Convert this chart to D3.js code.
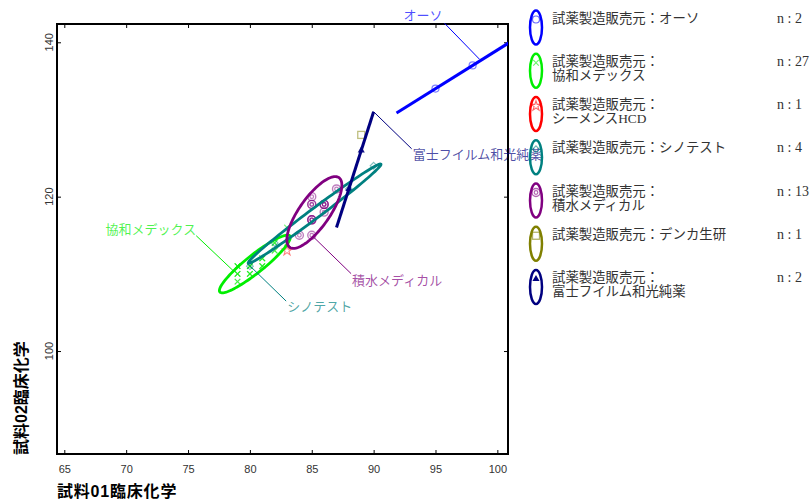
<!DOCTYPE html>
<html><head><meta charset="utf-8">
<script src="https://cdn.jsdelivr.net/npm/d3@7"></script>
<style>body{margin:0;background:#fff;} svg{display:block;}</style>
</head><body><svg id="c" width="812" height="500"></svg>
<script>
// ---------------- data ----------------
const xTicks = [65, 70, 75, 80, 85, 90, 95, 100];
const yTicks = [100, 120, 140];
const xTitle = "試料01臨床化学";
const yTitle = "試料02臨床化学";
const legendPrefix = "試薬製造販売元：";
const makers = ["オーソ", "協和メデックス", "シーメンスHCD", "シノテスト", "積水メディカル", "デンカ生研", "富士フイルム和光純薬"];
const counts = [2, 27, 1, 4, 13, 1, 2];
const colors = ["#0000ff", "#00ee00", "#ff0000", "#008080", "#800080", "#808000", "#000080"];
const shapes = ["circle", "x", "star", "diamond", "dcircle", "square", "triangle"];

const ptsOso = [[95, 134], [98, 137]];
const ptsKyowa = [[79,111],[79,111],[79,111],[79,110],[79,110],[79,110],[79,109],[79,109],
  [80,111],[80,111],[80,111],[80,111],[80,110],[80,110],[80,110],
  [81,112],[81,112],[81,112],[81,111],[81,111],[81,111],
  [82,114],[82,114],[82,113],[82,113],[83,116],[83,114]];
const ptsSiemens = [[83, 113]];
const ptsShino = [[80, 111], [82, 114], [88, 121], [90, 124]];
const ptsSekisui = [[85,120],[85,119],[85,119],[86,119],[86,119],[86,119],[86,118],[87,121],
  [85,117],[85,117],[85,117],[84,115],[85,115]];
const ptsDenka = [[89, 128]];
const ptsFuji = [[89, 126], [88, 121]];
const points = [ptsOso, ptsKyowa, ptsSiemens, ptsShino, ptsSekisui, ptsDenka, ptsFuji];

// ellipses: center, semi-major vector, semi-minor vector (data units)
const ellKyowa = {c: [80.40, 111.28], u: [2.83, 3.63], v: [0.45, -0.90]};
const ellShino = {c: [85.23, 117.80], u: [5.36, 6.41], v: [0.24, -0.52]};
const ellSekisui = {c: [85.21, 117.95], u: [1.99, 4.51], v: [0.99, -1.13]};
const ellipses = [[1, ellKyowa], [3, ellShino], [4, ellSekisui]];
// degenerate (n=2) ellipses drawn as line segments
const lineOso = [[91.85, 130.85], [101.2, 140.2]];
const lineFuji = [[87.0, 116.0], [90.0, 131.0]];
const lines = [[0, lineOso], [6, lineFuji]];

// annotation labels: series index, anchor (data)
const labelSeries = [0, 6, 1, 3, 4];
const labelAnchors = [[98.56, 137.8], [90.0, 131.0], [78.65, 110.41], [79.86, 111.26], [85.11, 114.82]];

// ---------------- layout ----------------
const svg = d3.select("#c");
const L = 57, R = 508, T = 24, B = 454;
const x = d3.scaleLinear().domain([64.41, 100.86]).range([L, R]);
const y = d3.scaleLinear().domain([86.66, 142.37]).range([B, T]);
const serif = "'Liberation Serif','Noto Sans CJK JP',serif";
const sans = "'Liberation Sans','Noto Sans CJK JP',sans-serif";

svg.append("defs").append("clipPath").attr("id", "clip")
  .append("rect").attr("x", L).attr("y", T).attr("width", R - L).attr("height", B - T);

// axes with inward ticks
const gx = svg.append("g").attr("transform", `translate(0,${B})`)
  .call(d3.axisBottom(x).tickValues(xTicks).tickSize(-4).tickPadding(11));
const gxt = svg.append("g").attr("transform", `translate(0,${T})`)
  .call(d3.axisTop(x).tickValues(xTicks).tickSize(-4).tickFormat(""));
const gy = svg.append("g").attr("transform", `translate(${L},0)`)
  .call(d3.axisLeft(y).tickValues(yTicks).tickSize(-4).tickFormat(""));
const gyr = svg.append("g").attr("transform", `translate(${R},0)`)
  .call(d3.axisRight(y).tickValues(yTicks).tickSize(-4).tickFormat(""));
[gx, gxt, gy, gyr].forEach(g => { g.select(".domain").remove(); g.selectAll(".tick line").attr("stroke", "#000"); });
gx.selectAll(".tick text").attr("font-family", sans).attr("font-size", 11).attr("fill", "#333");
// rotated y tick labels
yTicks.forEach(v => {
  svg.append("text").attr("transform", `translate(52.5,${y(v)}) rotate(-90)`)
    .attr("text-anchor", "middle").attr("font-family", sans).attr("font-size", 11)
    .attr("fill", "#333").text(v);
});
svg.append("rect").attr("x", L).attr("y", T).attr("width", R - L).attr("height", B - T)
  .attr("fill", "none").attr("stroke", "#000").attr("stroke-width", 2);

// titles
svg.append("text").attr("x", L).attr("y", 497).attr("font-family", sans).attr("font-weight", "bold")
  .attr("font-size", 16).attr("letter-spacing", 0.8).attr("fill", "#000").text(xTitle);
svg.append("text").attr("transform", `translate(27,455) rotate(-90)`).attr("font-family", sans)
  .attr("font-weight", "bold").attr("font-size", 16).attr("fill", "#000").text(yTitle);

// marker drawing
function marker(g, shape, color, cx, cy, op) {
  const s = g.append("g").attr("transform", `translate(${cx},${cy})`).attr("opacity", op);
  if (shape === "circle") s.append("circle").attr("r", 3.5).attr("fill", "none").attr("stroke", color).attr("stroke-width", 1.2);
  else if (shape === "dcircle") {
    s.append("circle").attr("r", 4).attr("fill", "none").attr("stroke", color).attr("stroke-width", 1.4);
    s.append("circle").attr("r", 1.8).attr("fill", "none").attr("stroke", color).attr("stroke-width", 1.2);
  } else if (shape === "x") s.append("path").attr("d", d3.symbol(d3.symbolX, 22)()).attr("fill", "none").attr("stroke", color).attr("stroke-width", 1.1);
  else if (shape === "star") s.append("path").attr("d", d3.symbol(d3.symbolStar, 30)()).attr("fill", "none").attr("stroke", color).attr("stroke-width", 1.1);
  else if (shape === "diamond") s.append("path").attr("d", d3.symbol(d3.symbolDiamond2, 30)()).attr("fill", "none").attr("stroke", color).attr("stroke-width", 1.1);
  else if (shape === "square") s.append("rect").attr("x", -3.5).attr("y", -3.5).attr("width", 7).attr("height", 7).attr("fill", "none").attr("stroke", color).attr("stroke-width", 1.3);
  else if (shape === "triangle") s.append("path").attr("d", d3.symbol(d3.symbolTriangle, 22)()).attr("fill", color);
}

const plot = svg.append("g").attr("clip-path", "url(#clip)");
// points
points.forEach((arr, i) => {
  const op = (shapes[i] === "triangle") ? 0.9 : 0.5;
  arr.forEach(p => marker(plot, shapes[i], colors[i], x(p[0]), y(p[1]), op));
});
// ellipses
const lineGen = d3.line().x(d => x(d[0])).y(d => y(d[1]));
ellipses.forEach(([i, e]) => {
  const pts = d3.range(0, 361, 3).map(a => {
    const t = a * Math.PI / 180;
    return [e.c[0] + e.u[0] * Math.cos(t) + e.v[0] * Math.sin(t), e.c[1] + e.u[1] * Math.cos(t) + e.v[1] * Math.sin(t)];
  });
  plot.append("path").attr("d", lineGen(pts) + "Z").attr("fill", "none")
    .attr("stroke", colors[i]).attr("stroke-width", 2.8);
});
lines.forEach(([i, seg]) => {
  plot.append("path").attr("d", lineGen(seg)).attr("fill", "none")
    .attr("stroke", colors[i]).attr("stroke-width", 3);
});

// annotations
const labelOffsets = [[-35, -36, -37, -39, "end"], [38, 37, 39, 47, "start"], [-37, -35, -37, -37, "end"],
  [38, 37, 39, 47, "start"], [38, 37, 39, 48, "start"]];
labelSeries.forEach((si, k) => {
  const ax = x(labelAnchors[k][0]), ay = y(labelAnchors[k][1]);
  const o = labelOffsets[k];
  svg.append("line").attr("x1", ax).attr("y1", ay).attr("x2", ax + o[0]).attr("y2", ay + o[1])
    .attr("stroke", colors[si]).attr("stroke-width", 1);
  svg.append("text").attr("x", ax + o[2]).attr("y", ay + o[3]).attr("text-anchor", o[4])
    .attr("font-family", serif).attr("font-size", 13).attr("fill", colors[si]).attr("fill-opacity", 0.7)
    .text(makers[si]);
});

// legend
makers.forEach((m, i) => {
  const cy = 27.5 + 43.25 * i;
  const g = svg.append("g");
  g.append("ellipse").attr("cx", 536).attr("cy", cy).attr("rx", 6).attr("ry", 17)
    .attr("fill", "none").attr("stroke", colors[i]).attr("stroke-width", 2.5);
  marker(g, shapes[i], colors[i], 536, cy - 8, shapes[i] === "triangle" ? 1 : 0.6);
  const two = m.length > 5;
  const t = g.append("text").attr("font-family", serif).attr("font-size", 13.4).attr("fill", "#333");
  if (two) {
    t.append("tspan").attr("x", 552).attr("y", cy - 5).text(legendPrefix);
    t.append("tspan").attr("x", 552).attr("y", cy + 9).text(m);
  } else {
    t.append("tspan").attr("x", 552).attr("y", cy - 5).text(legendPrefix + m);
  }
  g.append("text").attr("x", 777).attr("y", cy - 5).attr("font-family", serif).attr("font-size", 14)
    .attr("fill", "#333").text("n : " + counts[i]);
});
</script></body></html>
